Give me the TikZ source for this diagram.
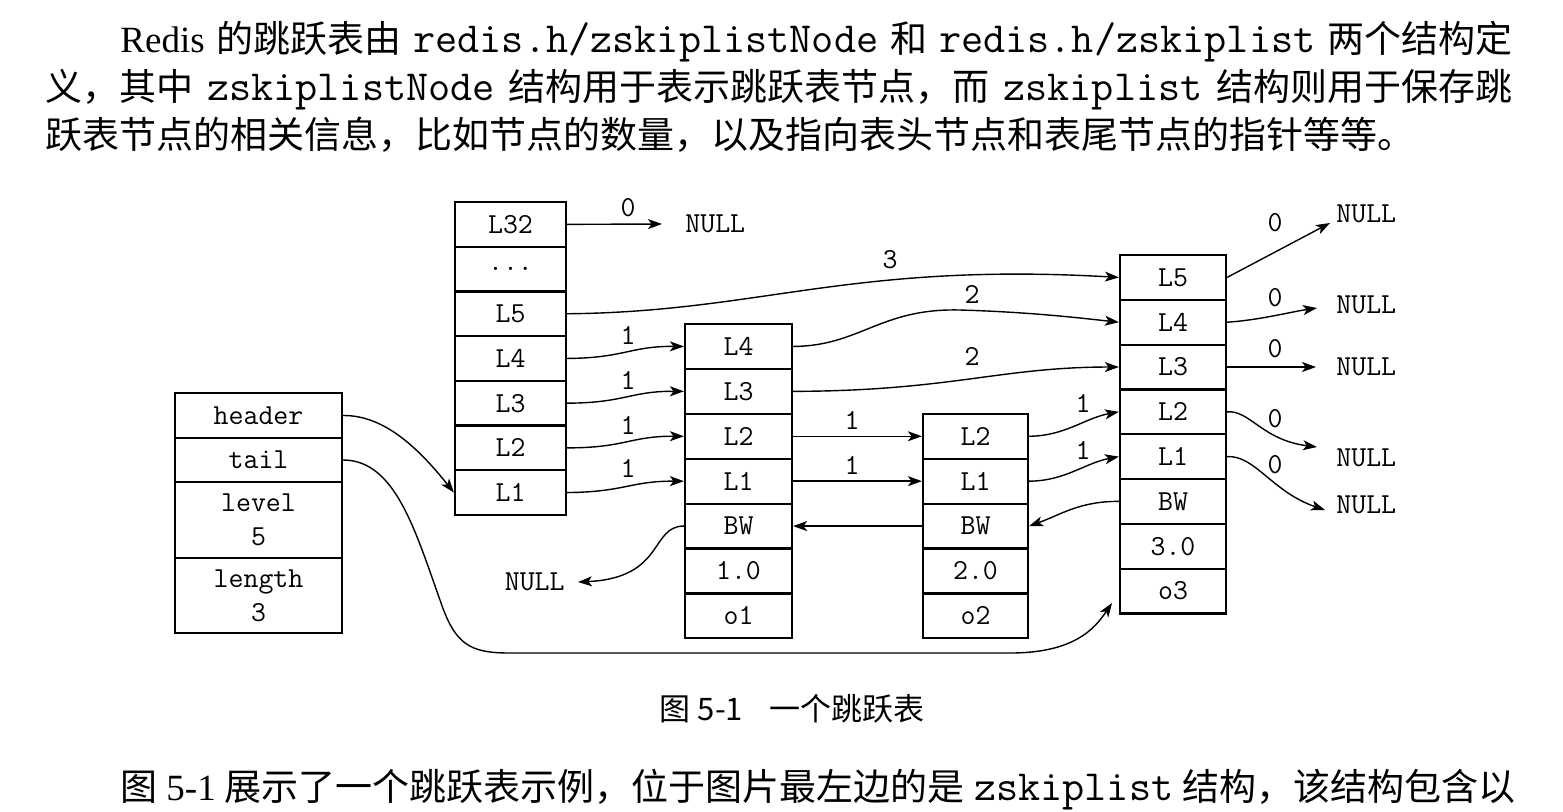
\documentclass[tikz,border=0pt]{standalone}
\usepackage{fontspec}
\setmainfont{Liberation Serif}
\newfontfamily\cjk{Noto Sans CJK SC}
\usetikzlibrary{arrows.meta}
\newcommand\txtzh{\fontsize{18.5}{22}\selectfont\cjk}
\newcommand\txtcd{\fontsize{21.5}{22}\selectfont\ttfamily}
\newcommand\txten{\fontsize{18.5}{22}\selectfont\rmfamily}
\begin{document}
\begin{tikzpicture}[x=0.5pt,y=-0.5pt,
  cell/.style={draw,line width=1.1pt,inner sep=0pt,font=\ttfamily\fontsize{14.5}{17}\selectfont,align=center},
  hcell/.style={cell,minimum width=55.5pt,minimum height=22.35pt},
  acell/.style={cell,minimum width=53.5pt,minimum height=22.45pt},
  bcell/.style={cell,minimum width=52.5pt,minimum height=22.45pt},
  ccell/.style={cell,minimum width=53pt,minimum height=22.4pt},
  zcell/.style={cell,minimum width=83.5pt},
  lbl/.style={inner sep=0pt,font=\ttfamily\fontsize{14.5}{15}\selectfont},
  nul/.style={inner sep=0pt,font=\ttfamily\fontsize{14.5}{15}\selectfont},
  arr/.style={line width=0.7pt,-{Stealth[length=7pt,width=5pt,inset=1.8pt]}}
]
\fill[white] (0,0) rectangle (1563,811);
\useasboundingbox (0,0) rectangle (1563,811);

% ---- text above ----
\node[anchor=base west,inner sep=0pt] (t1) at (120,52) {\makebox[696pt]{\txten Redis\hfill\txtzh 的跳跃表由\hfill\txtcd redis.h/zskiplistNode\hfill\txtzh 和\hfill\txtcd redis.h/zskiplist\hfill\txtzh 两个结构定}};
\node[anchor=base west,inner sep=0pt] (t2) at (45,100) {\makebox[733.5pt]{\txtzh 义，其中\hfill\txtcd zskiplistNode\hfill\txtzh 结构用于表示跳跃表节点，而\hfill\txtcd zskiplist\hfill\txtzh 结构则用于保存跳}};
\node[anchor=base west,inner sep=0pt] (t3) at (45,148) {\txtzh 跃表节点的相关信息，比如节点的数量，以及指向表头节点和表尾节点的指针等等。};

% ---- zskiplist ----
\node[zcell,minimum height=22.5pt] (zh) at (258.5,415.5) {header};
\node[zcell,minimum height=22pt] (zt) at (258.5,460) {tail};
\node[zcell,minimum height=38pt] (zl) at (258.5,520) {level\\5};
\node[zcell,minimum height=37.5pt] (zn) at (258.5,595.5) {length\\3};

% ---- header node ----
\node[hcell] (h32) at (510.5,224.35) {L32};
\node[hcell] (hd) at (510.5,269.05) {...};
\node[hcell] (h5) at (510.5,313.75) {L5};
\node[hcell] (h4) at (510.5,358.45) {L4};
\node[hcell] (h3) at (510.5,403.15) {L3};
\node[hcell] (h2) at (510.5,447.85) {L2};
\node[hcell] (h1) at (510.5,492.55) {L1};

% ---- node o1 ----
\node[acell] (a4) at (738.5,346.45) {L4};
\node[acell] (a3) at (738.5,391.35) {L3};
\node[acell] (a2) at (738.5,436.25) {L2};
\node[acell] (a1) at (738.5,481.15) {L1};
\node[acell] (abw) at (738.5,526.05) {BW};
\node[acell] (asc) at (738.5,570.95) {1.0};
\node[acell] (aob) at (738.5,615.85) {o1};

% ---- node o2 ----
\node[bcell] (b2) at (975.5,436.25) {L2};
\node[bcell] (b1) at (975.5,481.15) {L1};
\node[bcell] (bbw) at (975.5,526.05) {BW};
\node[bcell] (bsc) at (975.5,570.95) {2.0};
\node[bcell] (bob) at (975.5,615.85) {o2};

% ---- node o3 ----
\node[ccell] (c5) at (1173,277.4) {L5};
\node[ccell] (c4) at (1173,322.2) {L4};
\node[ccell] (c3) at (1173,367) {L3};
\node[ccell] (c2) at (1173,411.8) {L2};
\node[ccell] (c1) at (1173,456.6) {L1};
\node[ccell] (cbw) at (1173,501.4) {BW};
\node[ccell] (csc) at (1173,546.2) {3.0};
\node[ccell] (cob) at (1173,591) {o3};

% ---- NULLs ----
\node[nul,anchor=west] (nh) at (685,224) {NULL};
\node[nul,anchor=east] (na) at (565,582) {NULL};
\node[nul,anchor=west] (n1) at (1336,214) {NULL};
\node[nul,anchor=west] (n2) at (1336,305) {NULL};
\node[nul,anchor=west] (n3) at (1336,367) {NULL};
\node[nul,anchor=west] (n4) at (1336,458) {NULL};
\node[nul,anchor=west] (n5) at (1336,505) {NULL};
\coordinate (tailend) at (1112,603);

% ---- connectors ----
\draw[arr] (zh.east) .. controls (385,415) and (420,450) .. (h1.west);
\draw[arr] (zt.east) .. controls (395,460) and (415,530) .. (440,600) .. controls (455,645) and (470,653) .. (510,653) -- (1010,653) .. controls (1075,653) and (1095,628) .. (tailend);

\draw[arr] (h32.east) -- ([xshift=-11.5pt]nh.west);
\draw[arr] (h5.east) .. controls (760,312) and (850,262) .. (c5.west);
\draw[arr] (h4.east) .. controls (625,358) and (630,346) .. (a4.west);
\draw[arr] (h3.east) .. controls (625,403) and (630,391) .. (a3.west);
\draw[arr] (h2.east) .. controls (625,448) and (630,436) .. (a2.west);
\draw[arr] (h1.east) .. controls (625,492) and (630,481) .. (a1.west);

\draw[arr] (a4.east) .. controls (860,346) and (880,308) .. (960,310) .. controls (1030,312) and (1080,318) .. (c4.west);
\draw[arr] (a3.east) .. controls (950,391) and (1000,367) .. (c3.west);
\draw[arr] (a2.east) -- (b2.west);
\draw[arr] (a1.east) -- (b1.west);
\draw[arr] (b2.east) .. controls (1065,436) and (1085,418) .. (c2.west);
\draw[arr] (b1.east) .. controls (1065,481) and (1085,463) .. (c1.west);

\draw[arr] (cbw.west) .. controls (1080,501) and (1060,515) .. (bbw.east);
\draw[arr] (bbw.west) -- (abw.east);
\draw[arr] (abw.west) .. controls (650,526) and (665,578) .. ([xshift=6.5pt]na.east);

\draw[arr] (c5.east) -- ([shift={(-6,9)}]n1.west);
\draw[arr] (c4.east) .. controls (1260,320) and (1290,312) .. ([shift={(-19,3)}]n2.west);
\draw[arr] (c3.east) -- ([xshift=-10pt]n3.west);
\draw[arr] (c2.east) .. controls (1250,410) and (1262,440) .. ([shift={(-19,-11)}]n4.west);
\draw[arr] (c1.east) .. controls (1255,455) and (1272,492) .. ([shift={(-11,5)}]n5.west);

% ---- labels ----
\node[lbl] (l0) at (628,208) {0};
\node[lbl] (l1a) at (628,335) {1};
\node[lbl] (l1b) at (628,380) {1};
\node[lbl] (l1c) at (628,425) {1};
\node[lbl] (l1d) at (628,468) {1};
\node[lbl] (l3) at (890,260) {3};
\node[lbl] (l2a) at (972,294) {2};
\node[lbl] (l2b) at (972,356) {2};
\node[lbl] (l1e) at (852,420) {1};
\node[lbl] (l1f) at (852,465) {1};
\node[lbl] (l1g) at (1083,403) {1};
\node[lbl] (l1h) at (1083,450) {1};
\node[lbl] (r0a) at (1275,223) {0};
\node[lbl] (r0b) at (1275,298) {0};
\node[lbl] (r0c) at (1275,349) {0};
\node[lbl] (r0d) at (1275,419) {0};
\node[lbl] (r0e) at (1275,465) {0};

% ---- caption and text below ----
\node[anchor=base,inner sep=0pt,font=\fontsize{15.5}{18}\selectfont\cjk] (cap) at (792,720) {图 5-1\hspace{13pt}一个跳跃表};
\node[anchor=base west,inner sep=0pt] (t4) at (120,800) {\makebox[697.5pt]{\txtzh 图\hfill\txten 5-1\hfill\txtzh 展示了一个跳跃表示例，位于图片最左边的是\hfill\txtcd zskiplist\hfill\txtzh 结构，该结构包含以}};
\end{tikzpicture}
\end{document}
